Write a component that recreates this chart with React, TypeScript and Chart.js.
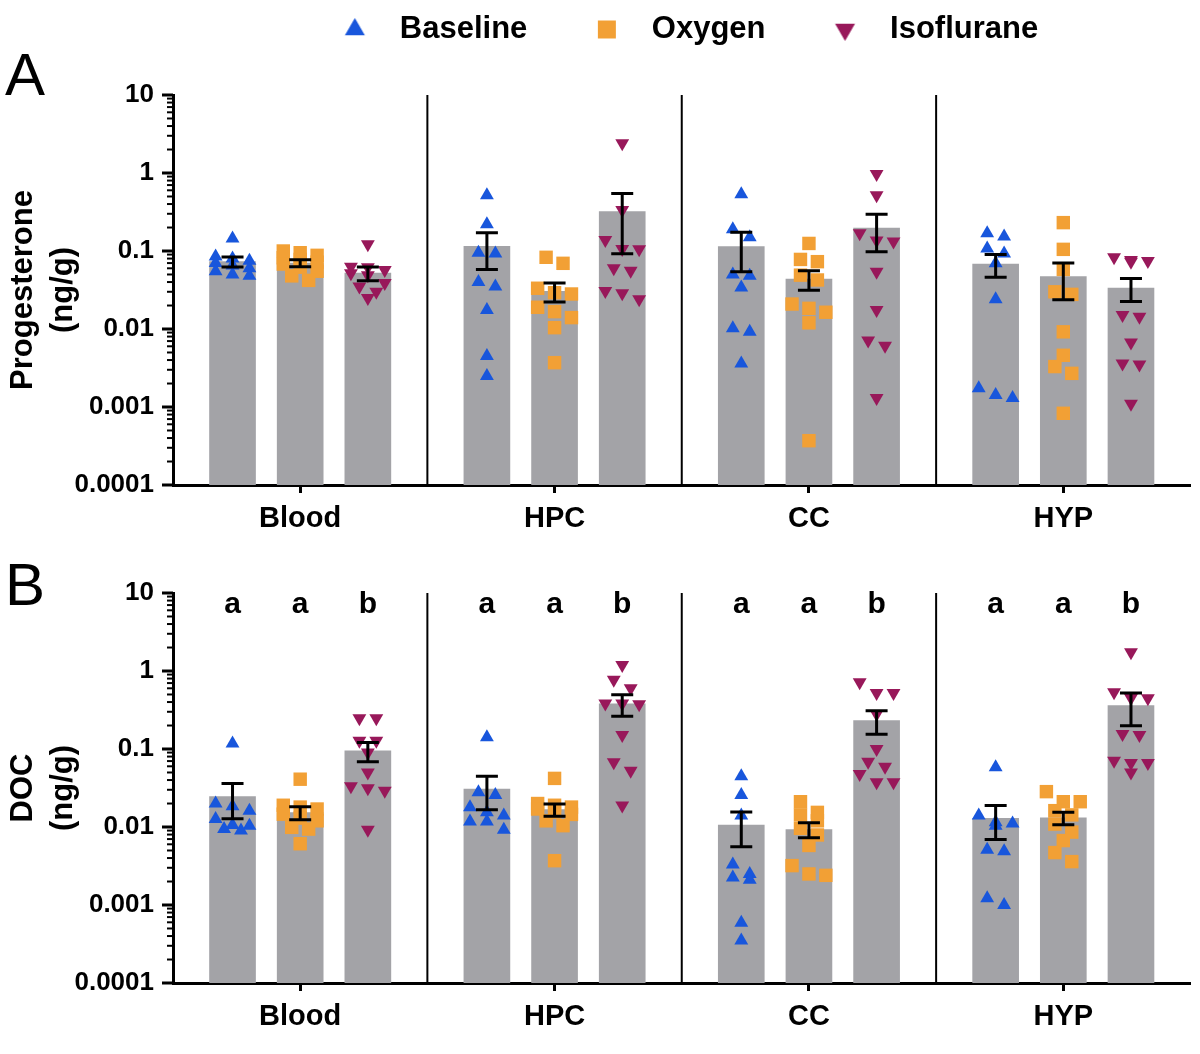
import React, { useEffect, useRef } from 'react';
import { Chart, registerables } from 'chart.js';
import { drawPoint } from 'chart.js/helpers';

Chart.register(...registerables);

const GROUPS = ['Blood', 'HPC', 'CC', 'HYP'];
const CONDITIONS = ['Baseline', 'Oxygen', 'Isoflurane'];
const Y_TICKS = [0.0001, 0.001, 0.01, 0.1, 1, 10];
const Y_TICK_LABELS = ['0.0001', '0.001', '0.01', '0.1', '1', '10'];

// ---- Panel A: Progesterone (ng/g), individual values per group ----
const A_BASELINE = [
  [0.145, 0.085, 0.08, 0.075, 0.07, 0.065, 0.06, 0.055, 0.05, 0.048],
  [0.52, 0.22, 0.095, 0.093, 0.04, 0.035, 0.0175, 0.0045, 0.0025],
  [0.533, 0.19, 0.15, 0.05, 0.048, 0.034, 0.0102, 0.0092, 0.0036],
  [0.169, 0.153, 0.108, 0.093, 0.0695, 0.024, 0.00174, 0.00143, 0.0013],
];
const A_OXYGEN = [
  [0.1, 0.095, 0.088, 0.082, 0.078, 0.072, 0.068, 0.062, 0.055, 0.048, 0.042],
  [0.083, 0.0695, 0.0333, 0.0292, 0.0281, 0.019, 0.0167, 0.014, 0.0104, 0.0037],
  [0.125, 0.078, 0.073, 0.049, 0.0425, 0.0209, 0.0184, 0.0164, 0.012, 0.00037],
  [0.231, 0.105, 0.058, 0.03, 0.0278, 0.0092, 0.0046, 0.0033, 0.0027, 0.00083],
];
const A_ISO = [
  [0.122, 0.063, 0.062, 0.057, 0.052, 0.049, 0.039, 0.035, 0.03, 0.025],
  [2.4, 0.336, 0.138, 0.106, 0.105, 0.06, 0.0559, 0.0307, 0.0287, 0.024],
  [0.97, 0.52, 0.169, 0.136, 0.132, 0.054, 0.0175, 0.0071, 0.0061, 0.0013],
  [0.083, 0.0767, 0.0745, 0.073, 0.0151, 0.0144, 0.0067, 0.0036, 0.0035, 0.0011],
];
const A_BASELINE_MEAN = [0.073, 0.115, 0.114, 0.068];
const A_BASELINE_SEM = [0.0105, 0.057, 0.06, 0.022];
const A_OXYGEN_MEAN = [0.07, 0.0305, 0.0435, 0.047];
const A_OXYGEN_SEM = [0.007, 0.0083, 0.0122, 0.0233];
const A_ISO_MEAN = [0.052, 0.32, 0.197, 0.0335];
const A_ISO_SEM = [0.0105, 0.228, 0.099, 0.011];

// ---- Panel B: DOC (ng/g) ----
const B_BASELINE = [
  [0.118, 0.02, 0.0184, 0.0162, 0.0127, 0.0106, 0.0104, 0.0094, 0.009],
  [0.141, 0.0278, 0.0257, 0.0179, 0.0154, 0.014, 0.0118, 0.0118, 0.0092],
  [0.0447, 0.0257, 0.014, 0.0033, 0.0025, 0.00226, 0.0021, 0.00059, 0.00035],
  [0.0582, 0.014, 0.0115, 0.0111, 0.0104, 0.0051, 0.0049, 0.00122, 0.001],
];
const B_OXYGEN = [
  [0.041, 0.019, 0.018, 0.017, 0.0146, 0.013, 0.012, 0.0099, 0.0094, 0.0061],
  [0.042, 0.02, 0.019, 0.018, 0.017, 0.0155, 0.0145, 0.012, 0.0104, 0.0037],
  [0.0211, 0.0154, 0.0143, 0.012, 0.0096, 0.0079, 0.0058, 0.0032, 0.0025, 0.0024],
  [0.0284, 0.0211, 0.0211, 0.0162, 0.0143, 0.0109, 0.0086, 0.0067, 0.0047, 0.0036],
];
const B_ISO = [
  [0.247, 0.247, 0.128, 0.128, 0.09, 0.05, 0.0332, 0.0314, 0.0292, 0.0092],
  [1.19, 0.774, 0.6, 0.384, 0.384, 0.374, 0.151, 0.0675, 0.0527, 0.0188],
  [0.716, 0.522, 0.522, 0.28, 0.1, 0.0688, 0.0594, 0.0478, 0.0374, 0.0374],
  [1.74, 0.533, 0.45, 0.447, 0.156, 0.151, 0.0708, 0.0662, 0.0662, 0.05],
];
const B_BASELINE_MEAN = [0.0245, 0.0307, 0.0106, 0.0129];
const B_BASELINE_SEM = [0.0117, 0.0141, 0.005, 0.006];
const B_OXYGEN_MEAN = [0.0153, 0.0167, 0.0093, 0.0131];
const B_OXYGEN_SEM = [0.0029, 0.003, 0.002, 0.0024];
const B_ISO_MEAN = [0.095, 0.38, 0.232, 0.36];
const B_ISO_SEM = [0.0265, 0.117, 0.078, 0.162];
const B_LETTERS = [
  ['a', 'a', 'b'],
  ['a', 'a', 'b'],
  ['a', 'a', 'b'],
  ['a', 'a', 'b'],
];

// ---- styles ----
const FONT = "'Liberation Sans', Arial, Helvetica, sans-serif";
const BLUE = '#1856dc';
const ORANGE = '#f2a035';
const MAROON = '#98185a';
const BAR_GRAY = '#a3a3a7';
const COLORS = [BLUE, ORANGE, MAROON];
const STYLES = ['triangle', 'rect', 'triangle'];
const ROTATIONS = [0, 0, 180];
const RADII = [8, 9.5, 8];
const LEGEND_RADII = [11.5, 12.7, 11.5];
const BAR_STEP = 0.266; // spacing of the three bars inside a group (group units)
const BAR_WIDTH = 46;
const JITTER = 0.0665;
const ROW_GAP = 0.14;
const LETTER_LEVEL = 7;

const Y_ALL_TICKS: number[] = [];
Y_TICKS.forEach((t, i) => {
  Y_ALL_TICKS.push(t);
  if (i < Y_TICKS.length - 1) {
    for (let k = 2; k <= 9; k++) Y_ALL_TICKS.push(k * t);
  }
});
const majorIndex = (v: number) => Y_TICKS.findIndex((t) => Math.abs(t - v) < t * 1e-6);

// horizontal scatter layout (rows of overlapping points spread sideways)
function jitterOffsets(values: number[]): number[] {
  const order = values.map((_, i) => i).sort((a, b) => values[b] - values[a]);
  const offs = new Array(values.length).fill(0);
  let row: number[] = [];
  const flush = () => {
    row.forEach((id, k) => {
      offs[id] = (k - (row.length - 1) / 2) * JITTER;
    });
  };
  for (const id of order) {
    if (
      row.length &&
      (row.length >= 3 || Math.log10(values[row[0]]) - Math.log10(values[id]) > ROW_GAP)
    ) {
      flush();
      row = [];
    }
    row.push(id);
  }
  flush();
  return offs;
}

const barX = (g: number, c: number) => g + (c - 1) * BAR_STEP;

function scatterData(groups: number[][], c: number) {
  const out: { x: number; y: number }[] = [];
  groups.forEach((vals, g) => {
    const offs = jitterOffsets(vals);
    vals.forEach((v, i) => out.push({ x: barX(g, c) + offs[i], y: v }));
  });
  return out;
}

function makeSprite(c: number) {
  const r = LEGEND_RADII[c];
  const size = Math.ceil(r * 2 + 2);
  const cv = document.createElement('canvas');
  cv.width = size;
  cv.height = size;
  const cx = cv.getContext('2d')!;
  cx.fillStyle = COLORS[c];
  drawPoint(cx, { pointStyle: STYLES[c], rotation: ROTATIONS[c], radius: r, borderWidth: 0 } as any, size / 2, size / 2);
  return cv;
}

type PanelProps = {
  panelLabel: string;
  yTitle: string[];
  points: number[][][];
  means: number[][];
  sems: number[][];
  letters?: string[][];
  legend: boolean;
  top: number;
  height: number;
  padTop: number;
  padBottom: number;
  titlePadTop: number;
  titlePadBottom: number;
};

function Panel(p: PanelProps) {
  const ref = useRef<HTMLCanvasElement | null>(null);
  useEffect(() => {
    if (!ref.current) return;
    const sprites = CONDITIONS.map((_, c) => makeSprite(c));

    const decor = {
      id: 'decor',
      beforeDatasetsDraw(chart: any) {
        const { ctx, chartArea, scales } = chart;
        const x = scales.x;
        ctx.save();
        ctx.strokeStyle = '#000';
        ctx.lineWidth = 2;
        for (let g = 1; g < GROUPS.length; g++) {
          const px = x.getPixelForValue(g - 0.5);
          ctx.beginPath();
          ctx.moveTo(px, chartArea.top);
          ctx.lineTo(px, chartArea.bottom);
          ctx.stroke();
        }
        ctx.restore();
      },
      afterDatasetsDraw(chart: any) {
        const { ctx, scales } = chart;
        const ys = scales.y;
        ctx.save();
        ctx.strokeStyle = '#000';
        ctx.lineWidth = 3;
        CONDITIONS.forEach((_, c) => {
          const meta = chart.getDatasetMeta(c);
          p.means[c].forEach((m, g) => {
            const bar = meta.data[g];
            const xc = bar.x;
            const yt = ys.getPixelForValue(m + p.sems[c][g]);
            const yb = ys.getPixelForValue(m - p.sems[c][g]);
            ctx.beginPath();
            ctx.moveTo(xc, yt);
            ctx.lineTo(xc, yb);
            ctx.moveTo(xc - 11, yt);
            ctx.lineTo(xc + 11, yt);
            ctx.moveTo(xc - 11, yb);
            ctx.lineTo(xc + 11, yb);
            ctx.stroke();
          });
        });
        if (p.letters) {
          ctx.fillStyle = '#000';
          ctx.font = `bold 30px ${FONT}`;
          ctx.textAlign = 'center';
          ctx.textBaseline = 'middle';
          p.letters.forEach((row, g) => {
            row.forEach((txt, c) => {
              const bar = chart.getDatasetMeta(c).data[g];
              ctx.fillText(txt, bar.x, ys.getPixelForValue(LETTER_LEVEL));
            });
          });
        }
        ctx.restore();
      },
      afterDraw(chart: any) {
        const { ctx } = chart;
        const ys = chart.scales.y;
        ctx.save();
        ctx.strokeStyle = '#000';
        ys.ticks.forEach((t: any) => {
          const major = majorIndex(t.value) >= 0;
          const py = ys.getPixelForValue(t.value);
          ctx.lineWidth = major ? 3 : 2;
          ctx.beginPath();
          ctx.moveTo(ys.right, py);
          ctx.lineTo(ys.right - (major ? 11 : 6), py);
          ctx.stroke();
        });
        ctx.restore();
      },
    };

    const chart = new Chart(ref.current, {
      type: 'bar',
      data: {
        datasets: [
          ...CONDITIONS.map((name, c) => ({
            type: 'bar' as const,
            label: name + ' mean',
            data: p.means[c].map((m, g) => ({ x: barX(g, c), y: m })),
            backgroundColor: BAR_GRAY,
            borderWidth: 0,
            grouped: false,
            categoryPercentage: 1,
            barPercentage: 1,
            maxBarThickness: BAR_WIDTH,
            order: 2,
            xAxisID: 'x',
            yAxisID: 'y',
          })),
          ...CONDITIONS.map((name, c) => ({
            type: 'scatter' as const,
            label: name,
            data: scatterData(p.points[c], c),
            xAxisID: 'x',
            yAxisID: 'y',
            pointStyle: STYLES[c],
            pointRotation: ROTATIONS[c],
            pointRadius: RADII[c],
            pointHoverRadius: RADII[c],
            backgroundColor: COLORS[c],
            borderColor: COLORS[c],
            pointBorderWidth: 0,
            borderWidth: 0,
            showLine: false,
            grouped: false,
            order: 1,
            clip: false as any,
          })),
        ] as any,
      },
      options: {
        responsive: false,
        animation: false,
        events: [],
        layout: { padding: { top: p.padTop, left: 5, right: 4, bottom: p.padBottom } },
        plugins: {
          tooltip: { enabled: false },
          legend: p.legend
            ? ({
                display: true,
                position: 'top',
                fullSize: false,
                weight: 3000,
                align: 'center',
                labels: {
                  usePointStyle: true,
                  pointStyleWidth: 59,
                  padding: 50,
                  color: '#000',
                  font: { family: FONT, size: 31, weight: 'bold' },
                  generateLabels: () =>
                    CONDITIONS.map((name, c) => ({
                      text: name,
                      fillStyle: COLORS[c],
                      strokeStyle: COLORS[c],
                      lineWidth: 0,
                      pointStyle: sprites[c],
                      rotation: 0,
                      hidden: false,
                      datasetIndex: 3 + c,
                      fontColor: '#000',
                    })),
                },
              } as any)
            : { display: false },
          title: {
            display: true,
            text: p.panelLabel,
            align: 'start',
            color: '#000',
            font: { family: FONT, size: 60, weight: 'normal', lineHeight: 0.1 },
            padding: { top: p.titlePadTop, bottom: p.titlePadBottom },
          },
        },
        scales: {
          x: {
            type: 'linear',
            min: -0.5,
            max: GROUPS.length - 0.5,
            offset: false,
            afterBuildTicks: (s: any) => {
              s.ticks = GROUPS.map((_, g) => ({ value: g }));
            },
            grid: {
              display: true,
              offset: false,
              drawOnChartArea: false,
              drawTicks: true,
              tickLength: 8,
              tickWidth: 3,
              tickColor: '#000',
            },
            border: { display: true, width: 3, color: '#000' },
            ticks: {
              color: '#000',
              font: { family: FONT, size: 29, weight: 'bold' },
              padding: 9,
              maxRotation: 0,
              autoSkip: false,
              callback: (v: any) => GROUPS[Math.round(Number(v))] ?? '',
            },
            afterFit: (s: any) => {
              s.height = 55;
            },
          },
          y: {
            type: 'logarithmic',
            min: Y_TICKS[0],
            max: Y_TICKS[Y_TICKS.length - 1],
            afterBuildTicks: (s: any) => {
              s.ticks = Y_ALL_TICKS.map((v) => ({ value: v, major: majorIndex(v) >= 0 }));
            },
            afterFit: (s: any) => {
              s.width = 168;
            },
            grid: { display: false, drawTicks: true, tickLength: 11 },
            border: { display: true, width: 3, color: '#000' },
            ticks: {
              autoSkip: false,
              padding: 8,
              color: '#000',
              font: { family: FONT, size: 26, weight: 'bold' },
              callback: (v: any) => {
                const i = majorIndex(Number(v));
                return i >= 0 ? Y_TICK_LABELS[i] : '';
              },
            },
            title: {
              display: true,
              text: p.yTitle,
              color: '#000',
              font: { family: FONT, size: 31, weight: 'bold', lineHeight: 1.3 },
              padding: { top: -2, bottom: 0 },
            },
          },
        },
      } as any,
      plugins: [decor as any],
    });
    return () => chart.destroy();
  }, []);

  return (
    <canvas
      ref={ref}
      width={1200}
      height={p.height}
      style={{ position: 'absolute', left: 0, top: p.top, width: 1200, height: p.height }}
    />
  );
}

export default function App() {
  return (
    <div
      style={{
        position: 'absolute',
        left: 0,
        top: 0,
        width: 1200,
        height: 1054,
        overflow: 'hidden',
        background: '#fff',
      }}
    >
      <Panel
        panelLabel="A"
        yTitle={['Progesterone', '(ng/g)']}
        points={[A_BASELINE, A_OXYGEN, A_ISO]}
        means={[A_BASELINE_MEAN, A_OXYGEN_MEAN, A_ISO_MEAN]}
        sems={[A_BASELINE_SEM, A_OXYGEN_SEM, A_ISO_SEM]}
        legend={true}
        top={-36}
        height={576}
        padTop={0}
        padBottom={0}
        titlePadTop={20}
        titlePadBottom={14}
      />
      <Panel
        panelLabel="B"
        yTitle={['DOC', '(ng/g)']}
        points={[B_BASELINE, B_OXYGEN, B_ISO]}
        means={[B_BASELINE_MEAN, B_OXYGEN_MEAN, B_ISO_MEAN]}
        sems={[B_BASELINE_SEM, B_OXYGEN_SEM, B_ISO_SEM]}
        letters={B_LETTERS}
        legend={false}
        top={540}
        height={514}
        padTop={0}
        padBottom={16}
        titlePadTop={45.5}
        titlePadBottom={1.5}
      />
    </div>
  );
}
